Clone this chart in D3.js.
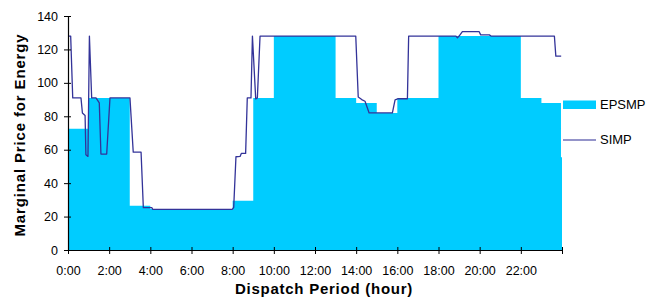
<!DOCTYPE html>
<html>
<head>
<meta charset="utf-8">
<script src="https://cdnjs.cloudflare.com/ajax/libs/d3/7.8.5/d3.min.js"></script>
<style>
  body { margin: 0; background: #fff; }
  text { font-family: "Liberation Sans", Arial, sans-serif; fill: #000; }
</style>
</head>
<body>
<div id="chart"></div>
<script>
//EPSMP: hourly step values (hour start, value)
var epsmpHours = [0, 1, 2, 3, 4, 5, 6, 7, 8, 9, 10, 11, 12, 13, 14, 15, 16, 17, 18, 19, 20, 21, 22, 23, 23.95, 24];
var epsmpValues = [72.5, 91, 91, 26.5, 24.5, 24, 24, 24, 29.5, 91, 128, 128, 128, 91, 88, 82, 91, 91, 128, 128, 128, 128, 91, 88, 55.5, 55.5];

//SIMP: points
var simpHours = [0, 0.13, 0.23, 0.63, 0.7, 0.83, 0.87, 0.97, 1.04, 1.15, 1.36, 1.52, 1.6, 1.88, 2.04, 3.01, 3.17, 3.55, 3.66, 4.07, 4.12,
  7.98, 8.05, 8.16, 8.36, 8.42, 8.63, 8.71, 8.89, 8.96, 9.12, 9.2, 9.33, 13.98, 14.1, 14.27, 14.43, 14.63, 15.76, 15.89, 16.05,
  16.49, 16.55, 18.85, 18.92, 19.0, 19.16, 19.97, 20.05, 20.47, 20.55, 23.63, 23.7, 23.96];
var simpValues = [128, 128, 91, 91, 82, 80.5, 57, 56, 128, 91, 91, 88, 57.4, 57.4, 91, 91, 58.5, 58.5, 25.3, 25.3, 24.3,
  24.3, 25.5, 55.8, 56, 57.8, 57.8, 91, 91, 128, 90.4, 91, 128, 128, 91.5, 90, 89, 82, 82, 89.8, 90.5,
  90.5, 128, 128, 127, 128, 130.7, 130.7, 128.7, 128.7, 128, 128, 116, 116];

var yTicks = [0, 20, 40, 60, 80, 100, 120, 140];
var xTicks = [0, 2, 4, 6, 8, 10, 12, 14, 16, 18, 20, 22, 24];
var xTickLabels = ["0:00", "2:00", "4:00", "6:00", "8:00", "10:00", "12:00", "14:00", "16:00", "18:00", "20:00", "22:00", ""];

var width = 655, height = 300;
var plotLeft = 68, plotRight = 562, plotTop = 16, plotBottom = 250;

var epsmpColor = "#00ccff";
var simpColor = "#333399";

var svg = d3.select("#chart").append("svg")
    .attr("width", width)
    .attr("height", height);

var x = d3.scaleLinear().domain([0, 24]).range([plotLeft, plotRight]);
var y = d3.scaleLinear().domain([0, 140]).range([plotBottom, plotTop]);

//EPSMP stepped area
var epsmp = epsmpHours.map(function(h, i) { return {h: h, v: epsmpValues[i]}; });
var area = d3.area()
    .curve(d3.curveStepAfter)
    .x(function(d) { return x(d.h); })
    .y0(y(0))
    .y1(function(d) { return y(d.v); });

svg.append("path")
    .datum(epsmp)
    .attr("d", area)
    .attr("fill", epsmpColor);

//SIMP line
var simp = simpHours.map(function(h, i) { return {h: h, v: simpValues[i]}; });
var line = d3.line()
    .x(function(d) { return x(d.h); })
    .y(function(d) { return y(d.v); });

svg.append("path")
    .datum(simp)
    .attr("d", line)
    .attr("fill", "none")
    .attr("stroke", simpColor)
    .attr("stroke-width", 1.3)
    .attr("stroke-linejoin", "round");

//axes
var yAxis = svg.append("g")
    .attr("transform", "translate(" + plotLeft + ",0)")
    .call(d3.axisLeft(y).tickValues(yTicks).tickSizeInner(4).tickSizeOuter(0).tickPadding(6));

var xAxis = svg.append("g")
    .attr("transform", "translate(0," + plotBottom + ")")
    .call(d3.axisBottom(x).tickValues(xTicks)
      .tickFormat(function(d, i) { return xTickLabels[i]; })
      .tickSizeInner(4).tickSizeOuter(0).tickPadding(12));

[yAxis, xAxis].forEach(function(g) {
  g.select(".domain").attr("stroke", "#000").attr("stroke-width", 1.2);
  g.selectAll(".tick line").attr("stroke", "#000");
  g.selectAll(".tick text")
      .attr("font-family", "Liberation Sans, Arial, sans-serif")
      .attr("font-size", "12.5px")
      .attr("fill", "#000");
});

//ticks cross the axis a bit
yAxis.selectAll(".tick line").attr("x1", 3);
xAxis.selectAll(".tick line").attr("y1", -3);

//axis titles (wide bold, like the original)
svg.append("text")
    .attr("transform", "translate(25,135) rotate(-90)")
    .attr("text-anchor", "middle")
    .attr("font-weight", "bold")
    .attr("font-size", "15px")
    .attr("letter-spacing", "0.85px")
    .text("Marginal Price for Energy");

svg.append("text")
    .attr("x", 324)
    .attr("y", 294)
    .attr("text-anchor", "middle")
    .attr("font-weight", "bold")
    .attr("font-size", "15px")
    .attr("letter-spacing", "0.75px")
    .text("Dispatch Period (hour)");

//legend
var legend = svg.append("g");
legend.append("rect")
    .attr("x", 563).attr("y", 100.5)
    .attr("width", 33).attr("height", 8.5)
    .attr("fill", epsmpColor);
legend.append("text")
    .attr("x", 600).attr("y", 104.5)
    .attr("dy", "0.35em")
    .attr("font-size", "13px")
    .text("EPSMP");
legend.append("line")
    .attr("x1", 563).attr("x2", 596)
    .attr("y1", 140).attr("y2", 140)
    .attr("stroke", simpColor)
    .attr("stroke-opacity", 0.7)
    .attr("stroke-width", 1.3);
legend.append("text")
    .attr("x", 600).attr("y", 139)
    .attr("dy", "0.35em")
    .attr("font-size", "13px")
    .text("SIMP");
</script>
</body>
</html>
